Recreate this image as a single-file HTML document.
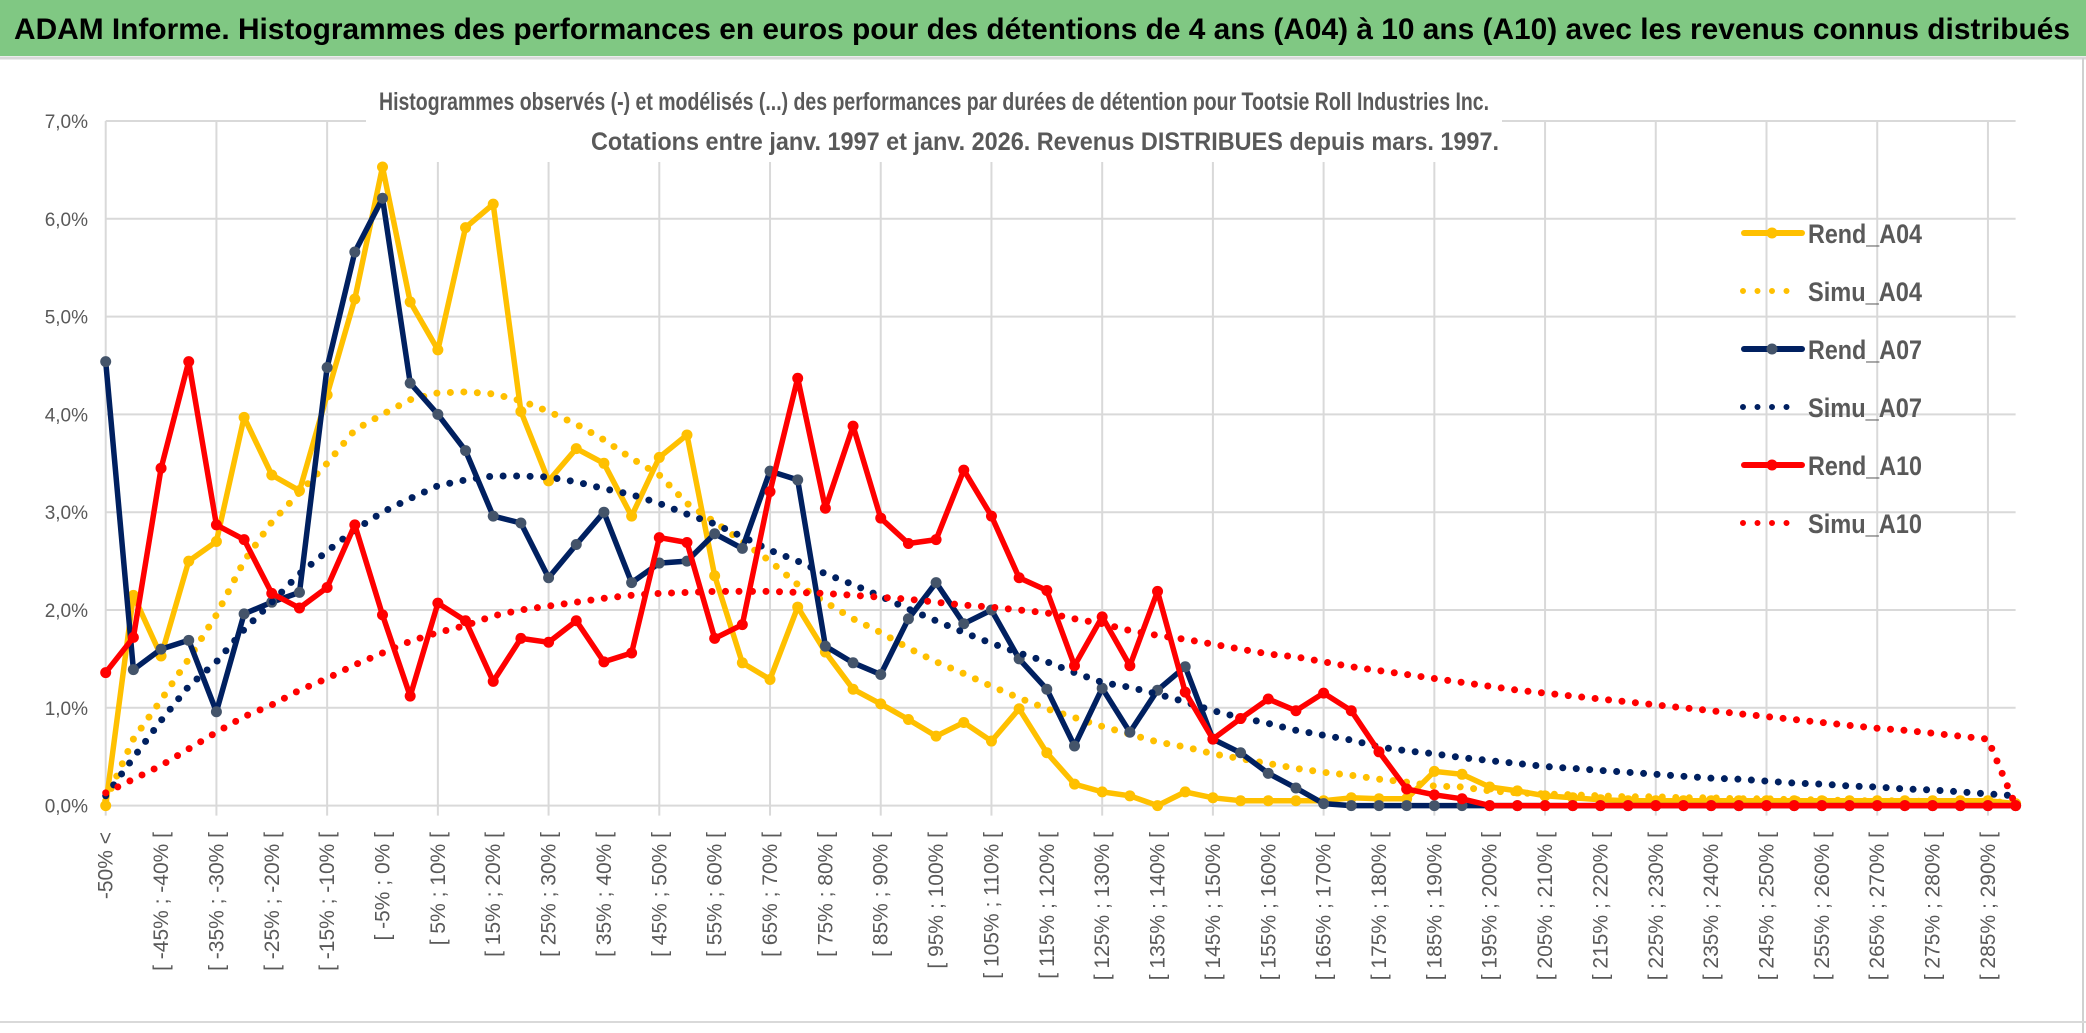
<!DOCTYPE html>
<html><head><meta charset="utf-8">
<style>
html,body{margin:0;padding:0;background:#fff;}
svg{display:block;font-family:"Liberation Sans",sans-serif;}
</style></head>
<body>
<svg id="chart" width="2086" height="1033" viewBox="0 0 2086 1033" xmlns="http://www.w3.org/2000/svg">
  <rect x="0" y="0" width="2086" height="1033" fill="#fff"/>
  <rect x="0" y="0" width="2086" height="56" fill="#80c883"/>
  <text x="14" y="39" font-size="30" font-weight="bold" fill="#000" textLength="2056" lengthAdjust="spacingAndGlyphs">ADAM Informe. Histogrammes des performances en euros pour des détentions de 4 ans (A04) à 10 ans (A10) avec les revenus connus distribués</text>
  <line x1="0" y1="58" x2="2086" y2="58" stroke="#d9d9d9" stroke-width="3"/>
  <line x1="2083" y1="58" x2="2083" y2="1033" stroke="#d0d0d0" stroke-width="2"/>
  <line x1="0" y1="1022" x2="2086" y2="1022" stroke="#d9d9d9" stroke-width="2"/>
  <g id="grid"></g>
  <rect x="366" y="80" width="1136" height="82" fill="#fff"/>
  <text x="934" y="110" font-size="25" font-weight="bold" fill="#595959" text-anchor="middle" textLength="1110" lengthAdjust="spacingAndGlyphs">Histogrammes observés (-) et modélisés (...) des performances par durées de détention pour Tootsie Roll Industries Inc.</text>
  <text x="1045" y="150" font-size="25" font-weight="bold" fill="#595959" text-anchor="middle" textLength="908" lengthAdjust="spacingAndGlyphs">Cotations entre janv. 1997 et janv. 2026. Revenus DISTRIBUES depuis mars. 1997.</text>
  <g id="yaxis"></g>
  <g id="xaxis"></g>
  <g id="series"></g>
  <g id="legend"></g>
</svg>
<script>
const tickLabels = ["-50% <","[ -45% ; -40% [","[ -35% ; -30% [","[ -25% ; -20% [","[ -15% ; -10% [","[ -5% ; 0% [","[ 5% ; 10% [","[ 15% ; 20% [","[ 25% ; 30% [","[ 35% ; 40% [","[ 45% ; 50% [","[ 55% ; 60% [","[ 65% ; 70% [","[ 75% ; 80% [","[ 85% ; 90% [","[ 95% ; 100% [","[ 105% ; 110% [","[ 115% ; 120% [","[ 125% ; 130% [","[ 135% ; 140% [","[ 145% ; 150% [","[ 155% ; 160% [","[ 165% ; 170% [","[ 175% ; 180% [","[ 185% ; 190% [","[ 195% ; 200% [","[ 205% ; 210% [","[ 215% ; 220% [","[ 225% ; 230% [","[ 235% ; 240% [","[ 245% ; 250% [","[ 255% ; 260% [","[ 265% ; 270% [","[ 275% ; 280% [","[ 285% ; 290% ["];
const yTicks = [0,1,2,3,4,5,6,7];
const rendA04 = [0,2.15,1.53,2.5,2.7,3.97,3.38,3.22,4.2,5.18,6.53,5.15,4.66,5.91,6.15,4.03,3.32,3.65,3.5,2.96,3.56,3.79,2.35,1.46,1.29,2.03,1.57,1.19,1.04,0.88,0.71,0.85,0.66,0.99,0.54,0.22,0.14,0.1,0,0.14,0.08,0.05,0.05,0.05,0.05,0.08,0.07,0.07,0.35,0.32,0.19,0.15,0.1,0.08,0.06,0.05,0.05,0.05,0.05,0.05,0.05,0.05,0.05,0.05,0.05,0.05,0.05,0.05,0.05,0.02];
const simuA04 = [0.05,0.68,1.08,1.5,1.95,2.5,2.9,3.2,3.5,3.84,4.0,4.15,4.22,4.23,4.21,4.14,4.03,3.9,3.74,3.55,3.38,3.09,2.9,2.7,2.5,2.26,2.08,1.91,1.77,1.61,1.47,1.35,1.22,1.1,0.99,0.9,0.81,0.73,0.65,0.6,0.53,0.48,0.43,0.38,0.34,0.31,0.27,0.24,0.2,0.19,0.15,0.13,0.12,0.11,0.1,0.09,0.09,0.08,0.08,0.07,0.07,0.06,0.06,0.05,0.05,0.05,0.04,0.04,0.04,0.03];
const rendA07 = [4.54,1.39,1.6,1.69,0.96,1.96,2.08,2.18,4.48,5.66,6.21,4.32,4.0,3.63,2.96,2.89,2.33,2.67,3.0,2.28,2.48,2.5,2.78,2.63,3.42,3.33,1.63,1.46,1.34,1.91,2.28,1.86,2.0,1.5,1.19,0.61,1.2,0.75,1.18,1.42,0.68,0.54,0.33,0.18,0.02,0,0,0,0,0,0,0,0,0,0,0,0,0,0,0,0,0,0,0,0,0,0,0,0,0];
const simuA07 = [0.1,0.49,0.87,1.22,1.47,1.8,2.08,2.37,2.6,2.82,3.0,3.14,3.27,3.33,3.37,3.37,3.36,3.31,3.24,3.18,3.09,2.98,2.88,2.75,2.61,2.5,2.37,2.26,2.14,2.01,1.89,1.77,1.66,1.56,1.47,1.36,1.26,1.21,1.14,1.06,0.97,0.9,0.84,0.77,0.72,0.67,0.6,0.56,0.53,0.49,0.46,0.43,0.4,0.38,0.36,0.34,0.32,0.3,0.28,0.27,0.25,0.23,0.22,0.2,0.19,0.17,0.16,0.14,0.12,0.1];
const rendA10 = [1.36,1.72,3.45,4.54,2.87,2.72,2.17,2.02,2.23,2.87,1.95,1.12,2.07,1.89,1.27,1.71,1.67,1.89,1.47,1.56,2.74,2.69,1.71,1.85,3.21,4.37,3.04,3.88,2.94,2.68,2.72,3.43,2.96,2.33,2.2,1.43,1.93,1.43,2.19,1.16,0.68,0.89,1.09,0.97,1.15,0.97,0.55,0.17,0.11,0.07,0,0,0,0,0,0,0,0,0,0,0,0,0,0,0,0,0,0,0,0];
const simuA10 = [0.13,0.27,0.41,0.58,0.75,0.91,1.03,1.18,1.3,1.44,1.56,1.68,1.77,1.84,1.94,2.0,2.04,2.08,2.12,2.15,2.17,2.18,2.19,2.19,2.19,2.18,2.17,2.15,2.13,2.11,2.08,2.05,2.03,2.0,1.97,1.91,1.86,1.79,1.74,1.7,1.65,1.6,1.55,1.52,1.47,1.42,1.38,1.34,1.3,1.26,1.22,1.18,1.15,1.12,1.09,1.06,1.03,1.0,0.97,0.94,0.91,0.88,0.85,0.82,0.79,0.77,0.74,0.71,0.68,0];

const NS = "http://www.w3.org/2000/svg";
const X0 = 105.7, DX = 27.68, Y0 = 805.6, DY = 97.8;
const nCat = rendA04.length;
function xs(i){ return X0 + i*DX; }
function ys(v){ return Y0 - v*DY; }
function mk(tag, attrs, parent){ const e=document.createElementNS(NS,tag); for(const k in attrs) e.setAttribute(k,attrs[k]); parent.appendChild(e); return e; }

const grid = document.getElementById('grid');
const xRight = xs(nCat-1);
yTicks.forEach(t=>{
  const l = mk('line',{x1:X0,x2:xRight,y1:ys(t),y2:ys(t),stroke:'#d9d9d9','stroke-width':2},grid);
  
  
});
for(let i=0;i<nCat;i+=4){
  const l = mk('line',{x1:xs(i),x2:xs(i),y1:ys(yTicks[yTicks.length-1]),y2:ys(0)+10,stroke:'#d9d9d9','stroke-width':2},grid);
  
  
}
const yaxis = document.getElementById('yaxis');
yTicks.forEach(t=>{
  const tx = mk('text',{x:88,y:ys(t)+7,'font-size':19,fill:'#595959','text-anchor':'end'},yaxis);
  tx.textContent = t.toFixed(1).replace('.',',')+'%';
  
  
});
const xaxis = document.getElementById('xaxis');
tickLabels.forEach((s,k)=>{
  const x = xs(k*2)+7;
  const tx = mk('text',{x:0,y:0,'font-size':21,fill:'#595959','text-anchor':'end',transform:`translate(${x},832) rotate(-90)`},xaxis);
  tx.textContent = s;
  
  
});

const seriesG = document.getElementById('series');
function pts(arr){ return arr.map((v,i)=>xs(i).toFixed(1)+','+ys(v).toFixed(1)).join(' '); }
function solid(arr,color,mcolor,name){
  const g = mk('g',{},seriesG);
  
  
  mk('polyline',{points:pts(arr),fill:'none',stroke:color,'stroke-width':5.5,'stroke-linejoin':'round'},g);
  arr.forEach((v,i)=>{
    const c = mk('circle',{cx:xs(i),cy:ys(v),r:5.5,fill:mcolor},g);
    
    
  });
}
function dotted(arr,color,name){
  const p = mk('polyline',{points:pts(arr),fill:'none',stroke:color,'stroke-width':7,'stroke-linecap':'round','stroke-dasharray':'0 13.5'},seriesG);
  
  
}
solid(rendA04,'#ffc000','#ffc000','rend-a04-line');
dotted(simuA04,'#ffc000','simu-a04-line');
solid(rendA07,'#002060','#44546a','rend-a07-line');
dotted(simuA07,'#002060','simu-a07-line');
solid(rendA10,'#ff0000','#ff0000','rend-a10-line');
dotted(simuA10,'#ff0000','simu-a10-line');

const legendNames = ['Rend_A04','Simu_A04','Rend_A07','Simu_A07','Rend_A10','Simu_A10'];
const legendColors = ['#ffc000','#ffc000','#002060','#002060','#ff0000','#ff0000'];
const lg = document.getElementById('legend');
legendNames.forEach((n,k)=>{
  const y = 233 + k*58;
  const g = mk('g',{},lg);
  
  
  const dot = n.startsWith('Simu');
  if(dot){
    mk('line',{x1:1743,x2:1790,y1:y,y2:y,stroke:legendColors[k],'stroke-width':6,'stroke-linecap':'round','stroke-dasharray':'0 14.5'},g);
  } else {
    mk('line',{x1:1744,x2:1802,y1:y,y2:y,stroke:legendColors[k],'stroke-width':6,'stroke-linecap':'round'},g);
    mk('circle',{cx:1772,cy:y,r:5.5,fill:k===2?'#44546a':legendColors[k]},g);
  }
  const t = mk('text',{x:1808,y:y+10,'font-size':27,fill:'#595959','font-weight':'bold',textLength:114,lengthAdjust:'spacingAndGlyphs'},g);
  t.textContent = n;
});
</script>
</body></html>
